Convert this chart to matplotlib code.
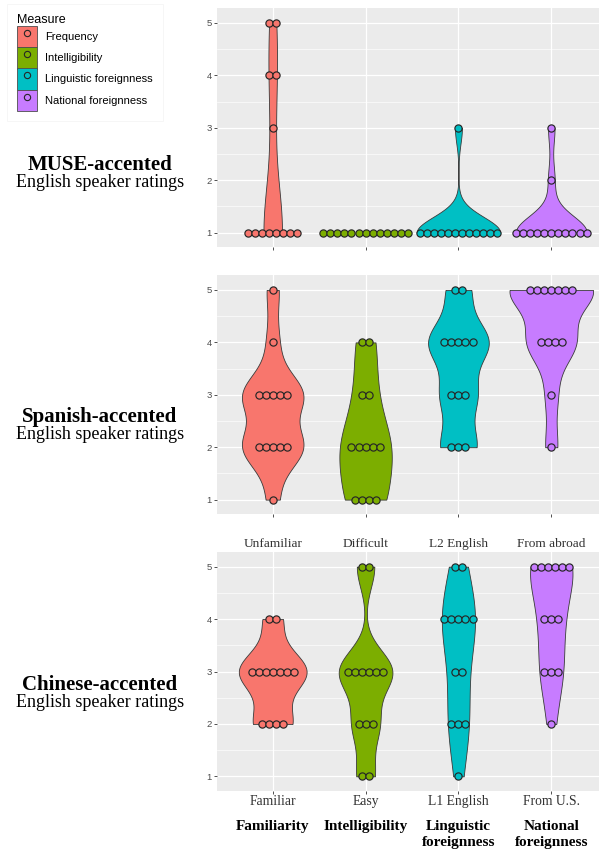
import numpy as np
import matplotlib
matplotlib.use("Agg")
import matplotlib.pyplot as plt
from matplotlib.patches import Patch
from matplotlib.lines import Line2D

# ratings 1..5, counts of listeners per rating (13 per measure)
ratings = [1, 2, 3, 4, 5]
measures = ["Frequency", "Intelligibility", "Linguistic foreignness", "National foreignness"]
colors = ["#F8766D", "#7CAE00", "#00BFC4", "#C77CFF"]

muse_counts = [[8, 0, 1, 2, 2], [13, 0, 0, 0, 0], [12, 0, 1, 0, 0], [11, 1, 1, 0, 0]]
spanish_counts = [[1, 5, 5, 1, 1], [4, 5, 2, 2, 0], [0, 3, 3, 5, 2], [0, 1, 1, 4, 7]]
chinese_counts = [[0, 4, 7, 2, 0], [2, 3, 6, 0, 2], [1, 3, 2, 5, 2], [0, 1, 3, 3, 6]]

panel_titles = ["MUSE-accented", "Spanish-accented", "Chinese-accented"]
top_labels = ["Unfamiliar", "Difficult", "L2 English", "From abroad"]
low_labels = ["Familiar", "Easy", "L1 English", "From U.S."]
axis_labels = ["Familiarity", "Intelligibility", "Linguistic\nforeignness", "National\nforeignness"]

W, H = 599, 855
fig = plt.figure(figsize=(W / 100, H / 100), dpi=100)
SERIF = "Liberation Serif"
SANS = "Liberation Sans"


def nrd0(x):
    hi = np.std(x, ddof=1)
    q75, q25 = np.percentile(x, [75, 25])
    lo = min(hi, (q75 - q25) / 1.34)
    if lo == 0:
        lo = hi if hi > 0 else 1.0
    return 0.9 * lo * len(x) ** -0.2


def violin_curve(x):
    bw = nrd0(x)
    y = np.linspace(x.min(), x.max(), 512)
    d = np.exp(-0.5 * ((y[:, None] - x[None, :]) / bw) ** 2).sum(axis=1)
    d = d / (len(x) * bw * np.sqrt(2 * np.pi))
    return y, d


def draw_panel(ax, counts, maxw):
    ax.set_facecolor("#EBEBEB")
    curves = []
    for c in counts:
        x = np.repeat(ratings, c).astype(float)
        if x.min() == x.max():
            curves.append(None)
        else:
            curves.append(violin_curve(x))
    dmax = max(cv[1].max() for cv in curves if cv is not None)
    for i, (c, cv) in enumerate(zip(counts, curves)):
        pos = i + 1
        if cv is not None:
            y, d = cv
            hw = d / dmax * maxw / 2
            ax.fill_betweenx(y, pos - hw, pos + hw, facecolor=colors[i],
                             edgecolor="#3a3a3a", linewidth=0.6, zorder=2)
        for r, n in zip(ratings, c):
            if n == 0:
                continue
            xs = pos + (np.arange(n) - (n - 1) / 2) * 0.076
            ax.plot(xs, [r] * n, "o", ms=5.2, mfc=colors[i], mec="#262626",
                    mew=0.85, zorder=3, clip_on=False)
    ax.set_xlim(0.4, 4.6)
    ax.set_ylim(0.72, 5.28)
    ax.set_yticks(ratings)
    ax.set_yticks([1.5, 2.5, 3.5, 4.5], minor=True)
    ax.set_xticks([1, 2, 3, 4])
    ax.grid(which="major", color="white", linewidth=0.9)
    ax.grid(which="minor", axis="y", color="white", linewidth=0.45)
    ax.set_axisbelow(True)
    for s in ax.spines.values():
        s.set_visible(False)
    ax.tick_params(axis="y", which="major", length=2.2, width=0.6, color="#333333",
                   labelsize=6.8, labelcolor="#4D4D4D", pad=1.5)
    ax.tick_params(axis="x", which="major", length=2.2, width=0.6, color="#333333")
    ax.tick_params(which="minor", length=0)
    for lab in ax.get_yticklabels():
        lab.set_fontfamily(SANS)


def px_box(top, bottom):
    return [217 / W, 1 - bottom / H, 390 / W, (bottom - top) / H]


ax1 = fig.add_axes(px_box(8.3, 247.3))
ax2 = fig.add_axes(px_box(275.3, 514.3))
ax3 = fig.add_axes(px_box(552, 791))

draw_panel(ax1, muse_counts, 0.9)
draw_panel(ax2, spanish_counts, 0.9)
draw_panel(ax3, chinese_counts, 0.73)

ax1.set_xticklabels([])
ax2.set_xticklabels([])
ax3.set_xticklabels(low_labels, fontfamily=SERIF, fontsize=9.8, color="#333333")
ax3.tick_params(axis="x", pad=0.5)

for i, t in enumerate(top_labels):
    ax3.text(i + 1, 5.43, t, ha="center", va="center", fontfamily=SERIF,
             fontsize=9.6, color="#333333")
for i, t in enumerate(axis_labels):
    fig.text((217 + (i + 1 - 0.4) * 390 / 4.2) / W, 1 - 820 / H, t, ha="center",
             va="top", fontfamily=SERIF, fontweight="bold", fontsize=11,
             linespacing=1.25)

# left-hand panel titles
for title, yb in zip(panel_titles, [170, 422, 690]):
    fig.text(100 / W, 1 - yb / H, title, ha="center", va="baseline",
             fontfamily=SERIF, fontweight="bold", fontsize=15)
    fig.text(100 / W, 1 - (yb + 17) / H, "English speaker ratings", ha="center",
             va="baseline", fontfamily=SERIF, fontsize=13)

handles = [(Patch(facecolor=c, edgecolor="#4d4d4d", linewidth=0.6),
            Line2D([], [], marker="o", ls="", ms=4.5, mfc=c, mec="#262626", mew=0.8))
           for c in colors]
leg = fig.legend(handles, measures, title="Measure", loc="upper left",
                 bbox_to_anchor=(5 / W, 1 - 2 / H), frameon=True,
                 prop={"family": SANS, "size": 8}, handlelength=1.8,
                 handleheight=2.55, labelspacing=0.0, handletextpad=0.7,
                 borderpad=0.6, alignment="left")
leg.get_title().set_fontfamily(SANS)
leg.get_title().set_fontsize(9)
leg.get_frame().set_edgecolor("#f2f2f2")
leg.get_frame().set_linewidth(0.6)
leg.get_frame().set_boxstyle("square")

fig.savefig("out.png", dpi=100)
